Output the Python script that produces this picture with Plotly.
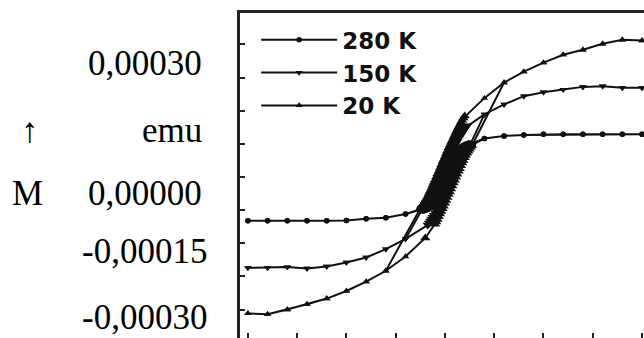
import plotly.graph_objects as go

# ---- data (field H and magnetisation M, in axis-division units) ----
# 280 K loop: descending branch (from +H) then ascending branch (from -H)
h280_desc = [4.0, 3.6, 3.2, 2.8, 2.4, 2.0, 1.6, 1.2, 0.8,
             0.500, 0.475, 0.450, 0.425, 0.400, 0.375, 0.350, 0.325, 0.300, 0.275,
             0.250, 0.225, 0.200, 0.175, 0.150, 0.125, 0.100, 0.075, 0.050, 0.025,
             0.000, -0.025, -0.050, -0.075, -0.100, -0.125, -0.150, -0.175, -0.200,
             -0.225, -0.250, -0.275, -0.300, -0.325, -0.350, -0.375, -0.400, -0.425,
             -0.450, -0.475, -0.500,
             -0.8, -1.2, -1.6, -2.0, -2.4, -2.8, -3.2, -3.6, -4.0]
m280_desc = [1.29, 1.29, 1.29, 1.29, 1.29, 1.29, 1.27, 1.24, 1.16,
             0.99, 0.98, 0.96, 0.95, 0.93, 0.91, 0.88, 0.86, 0.83, 0.79,
             0.75, 0.71, 0.66, 0.60, 0.54, 0.48, 0.41, 0.33, 0.26, 0.18,
             0.10, 0.02, -0.06, -0.14, -0.22, -0.29, -0.36, -0.43, -0.50,
             -0.55, -0.61, -0.66, -0.71, -0.75, -0.79, -0.82, -0.86, -0.89,
             -0.92, -0.94, -0.97,
             -1.12, -1.23, -1.26, -1.31, -1.32, -1.32, -1.32, -1.32, -1.32]
h280_asc = [-4.0, -3.6, -3.2, -2.8, -2.4, -2.0, -1.6, -1.2, -0.8,
            -0.450, -0.425, -0.400, -0.375, -0.350, -0.325, -0.300, -0.275, -0.250,
            -0.225, -0.200, -0.175, -0.150, -0.125, -0.100, -0.075, -0.050, -0.025,
            0.000, 0.025, 0.050, 0.075, 0.100, 0.125, 0.150, 0.175, 0.200,
            0.225, 0.250, 0.275, 0.300, 0.325, 0.350, 0.375, 0.400, 0.425,
            0.450, 0.475, 0.500, 0.525, 0.550,
            0.8, 1.2, 1.6, 2.0, 2.4, 2.8, 3.2, 3.6, 4.0]
m280_asc = [-1.32, -1.32, -1.32, -1.32, -1.32, -1.31, -1.26, -1.23, -1.12,
            -0.99, -0.98, -0.96, -0.95, -0.93, -0.91, -0.88, -0.86, -0.83,
            -0.79, -0.75, -0.71, -0.66, -0.60, -0.54, -0.48, -0.41, -0.33,
            -0.26, -0.18, -0.10, -0.02, 0.06, 0.14, 0.22, 0.29, 0.36,
            0.43, 0.50, 0.55, 0.61, 0.66, 0.71, 0.75, 0.79, 0.82,
            0.86, 0.89, 0.92, 0.94, 0.97,
            1.16, 1.24, 1.27, 1.29, 1.29, 1.29, 1.29, 1.29, 1.29]

# 150 K loop
h150_desc = [4.0, 3.6, 3.2, 2.8, 2.4, 2.0, 1.6, 1.2, 0.8,
             0.450, 0.425, 0.400, 0.375, 0.350, 0.325, 0.300, 0.275, 0.250,
             0.225, 0.200, 0.175, 0.150, 0.125, 0.100, 0.075, 0.050, 0.025,
             0.000, -0.025, -0.050, -0.075, -0.100, -0.125, -0.150, -0.175, -0.200,
             -0.225, -0.250, -0.275, -0.300, -0.325, -0.350, -0.375, -0.400, -0.425,
             -0.450,
             -0.8, -1.2, -1.6, -2.0, -2.4, -2.8, -3.2, -3.6, -4.0]
m150_desc = [2.69, 2.69, 2.74, 2.72, 2.64, 2.56, 2.44, 2.19, 1.89,
             1.55, 1.50, 1.45, 1.39, 1.33, 1.27, 1.21, 1.15, 1.08,
             1.01, 0.94, 0.87, 0.80, 0.73, 0.65, 0.58, 0.50, 0.42,
             0.35, 0.27, 0.19, 0.11, 0.04, -0.04, -0.12, -0.20, -0.27,
             -0.35, -0.42, -0.49, -0.56, -0.63, -0.70, -0.76, -0.82, -0.88,
             -0.94,
             -1.87, -2.18, -2.43, -2.58, -2.70, -2.76, -2.72, -2.74, -2.74]
h150_asc = [-4.0, -3.6, -3.2, -2.8, -2.4, -2.0, -1.6, -1.2, -0.8,
            -0.350, -0.325, -0.300, -0.275, -0.250, -0.225, -0.200, -0.175, -0.150,
            -0.125, -0.100, -0.075, -0.050, -0.025, 0.000, 0.025, 0.050, 0.075,
            0.100, 0.125, 0.150, 0.175, 0.200, 0.225, 0.250, 0.275, 0.300,
            0.325, 0.350, 0.375, 0.400, 0.425, 0.450, 0.475, 0.500,
            0.8, 1.2, 1.6, 2.0, 2.4, 2.8, 3.2, 3.6, 4.0]
m150_asc = [-2.74, -2.74, -2.72, -2.76, -2.70, -2.58, -2.43, -2.18, -1.87,
            -1.45, -1.39, -1.33, -1.27, -1.21, -1.15, -1.08, -1.01, -0.94,
            -0.87, -0.80, -0.73, -0.65, -0.58, -0.50, -0.42, -0.35, -0.27,
            -0.19, -0.11, -0.04, 0.04, 0.12, 0.20, 0.27, 0.35, 0.42,
            0.49, 0.56, 0.63, 0.70, 0.76, 0.82, 0.88, 0.94,
            1.89, 2.19, 2.44, 2.56, 2.64, 2.72, 2.74, 2.69, 2.69]

# 20 K loop
h20_desc = [4.0, 3.6, 3.2, 2.8, 2.4, 2.0, 1.6, 1.2, 0.8,
            0.400, 0.375, 0.350, 0.325, 0.300, 0.275, 0.250, 0.225, 0.200,
            0.175, 0.150, 0.125, 0.100, 0.075, 0.050, 0.025, 0.000, -0.025,
            -0.050, -0.075, -0.100, -0.125, -0.150, -0.175, -0.200, -0.225, -0.250,
            -0.275, -0.300, -0.325, -0.350, -0.375, -0.400, -0.425, -0.450, -0.475,
            -0.500,
            -1.2, -1.6, -2.0, -2.4, -2.8, -3.2, -3.6, -4.0]
m20_desc = [4.12, 4.14, 4.02, 3.84, 3.69, 3.45, 3.18, 2.85, 2.38,
            1.84, 1.78, 1.71, 1.65, 1.58, 1.51, 1.43, 1.36, 1.28,
            1.20, 1.12, 1.04, 0.96, 0.88, 0.79, 0.71, 0.62, 0.53,
            0.45, 0.36, 0.27, 0.18, 0.10, 0.01, -0.08, -0.17, -0.25,
            -0.34, -0.42, -0.50, -0.58, -0.65, -0.72, -0.78, -0.84, -0.90,
            -0.95,
            -2.83, -3.16, -3.44, -3.67, -3.84, -4.00, -4.14, -4.12]
h20_asc = [-4.0, -3.6, -3.2, -2.8, -2.4, -2.0, -1.6, -1.2, -0.8, -0.4,
           -0.200, -0.175, -0.150, -0.125, -0.100, -0.075, -0.050, -0.025, 0.000,
           0.025, 0.050, 0.075, 0.100, 0.125, 0.150, 0.175, 0.200, 0.225,
           0.250, 0.275, 0.300, 0.325, 0.350, 0.375, 0.400, 0.425, 0.450,
           0.475, 0.500, 0.525, 0.550,
           1.2, 1.6, 2.0, 2.4, 2.8, 3.2, 3.6, 4.0]
m20_asc = [-4.12, -4.14, -4.00, -3.84, -3.67, -3.44, -3.16, -2.83, -2.40, -1.84,
           -1.43, -1.36, -1.28, -1.20, -1.12, -1.04, -0.96, -0.88, -0.79,
           -0.71, -0.62, -0.53, -0.45, -0.36, -0.27, -0.18, -0.10, -0.01,
           0.08, 0.17, 0.25, 0.34, 0.42, 0.50, 0.58, 0.65, 0.72,
           0.78, 0.84, 0.90, 0.95,
           2.85, 3.18, 3.45, 3.69, 3.84, 4.02, 4.14, 4.12]

series_names = ["280 K", "150 K", "20 K"]
y_labels = ["0,00030", "emu", "0,00000", "-0,00015", "-0,00030"]
tick_vals = [-4, -3, -2, -1, 0, 1, 2, 3, 4]

loops = [
    (series_names[0], h280_desc + h280_asc, m280_desc + m280_asc, "circle", 5.5),
    (series_names[1], h150_desc + h150_asc, m150_desc + m150_asc, "triangle-down", 6.5),
    (series_names[2], h20_desc + h20_asc, m20_desc + m20_asc, "triangle-up", 6.5),
]

fig = go.Figure()
for name, hx, my, sym, sz in loops:
    # markers in the densely measured low-field region overlap into a solid band
    sizes = [sz + 2.5 if abs(v) < 0.6 else sz for v in hx]
    fig.add_trace(go.Scatter(
        x=hx, y=my, name=name, mode="lines+markers", showlegend=False,
        line=dict(color="#111111", width=2),
        marker=dict(symbol=sym, size=sizes, color="#111111", opacity=1,
                    line=dict(width=0)),
    ))
    # legend entry (no data drawn)
    fig.add_trace(go.Scatter(
        x=[None], y=[None], name=name, mode="lines+markers",
        line=dict(color="#111111", width=2),
        marker=dict(symbol=sym, size=sz, color="#111111", line=dict(width=0)),
    ))

W, H = 644, 338
L, T = 240, 13
pw, ph = W - L, H - T

def px(x):
    return (x - L) / pw

def py(y):
    return (H - y) / ph

annotations = []
label_pos = [(204, 63), (204, 130), (204, 193), (209, 252), (209, 317)]
for txt, (ax, ay) in zip(y_labels, label_pos):
    annotations.append(dict(text=txt, x=px(ax), y=py(ay), xref="paper", yref="paper",
                            xanchor="right", yanchor="middle", showarrow=False,
                            font=dict(family="Liberation Serif", size=35, color="#000")))
annotations.append(dict(text="↑", x=px(30), y=py(130), xref="paper", yref="paper",
                        xanchor="center", yanchor="middle", showarrow=False,
                        font=dict(family="Liberation Serif", size=35, color="#000")))
annotations.append(dict(text="M", x=px(27), y=py(193), xref="paper", yref="paper",
                        xanchor="center", yanchor="middle", showarrow=False,
                        font=dict(family="Liberation Serif", size=35, color="#000")))

fig.update_layout(
    width=W, height=H,
    margin=dict(l=L, r=0, t=T, b=0, pad=0),
    paper_bgcolor="white", plot_bgcolor="white",
    showlegend=True,
    legend=dict(x=0.04, y=0.984, xanchor="left", yanchor="top",
                bgcolor="rgba(0,0,0,0)", borderwidth=0,
                font=dict(family="DejaVu Sans", size=23, color="#111", weight="bold"),
                itemwidth=76, tracegroupgap=0, itemclick=False),
    annotations=annotations,
    xaxis=dict(range=[-4.16, 4.04], tickvals=tick_vals, ticks="inside", ticklen=5,
               tickwidth=1.5, tickcolor="#222", showticklabels=False, showgrid=False,
               zeroline=False, showline=False),
    xaxis2=dict(overlaying="x", side="top", range=[-4.16, 4.04], showline=True,
                linewidth=3, linecolor="#222", showticklabels=False, ticks="",
                showgrid=False, zeroline=False, matches="x"),
    yaxis=dict(range=[-4.86, 4.95], tickvals=tick_vals, ticks="inside", ticklen=5,
               tickwidth=1.5, tickcolor="#222", showticklabels=False, showgrid=False,
               zeroline=False, showline=True, linewidth=3, linecolor="#222"),
)
# invisible trace to activate the top axis line
fig.add_trace(go.Scatter(x=[0], y=[0], xaxis="x2", mode="markers",
                         marker=dict(opacity=0), showlegend=False, hoverinfo="skip"))

fig.write_html("out.html", config={"displayModeBar": False},
               post_script="document.body.style.margin='0px';")
